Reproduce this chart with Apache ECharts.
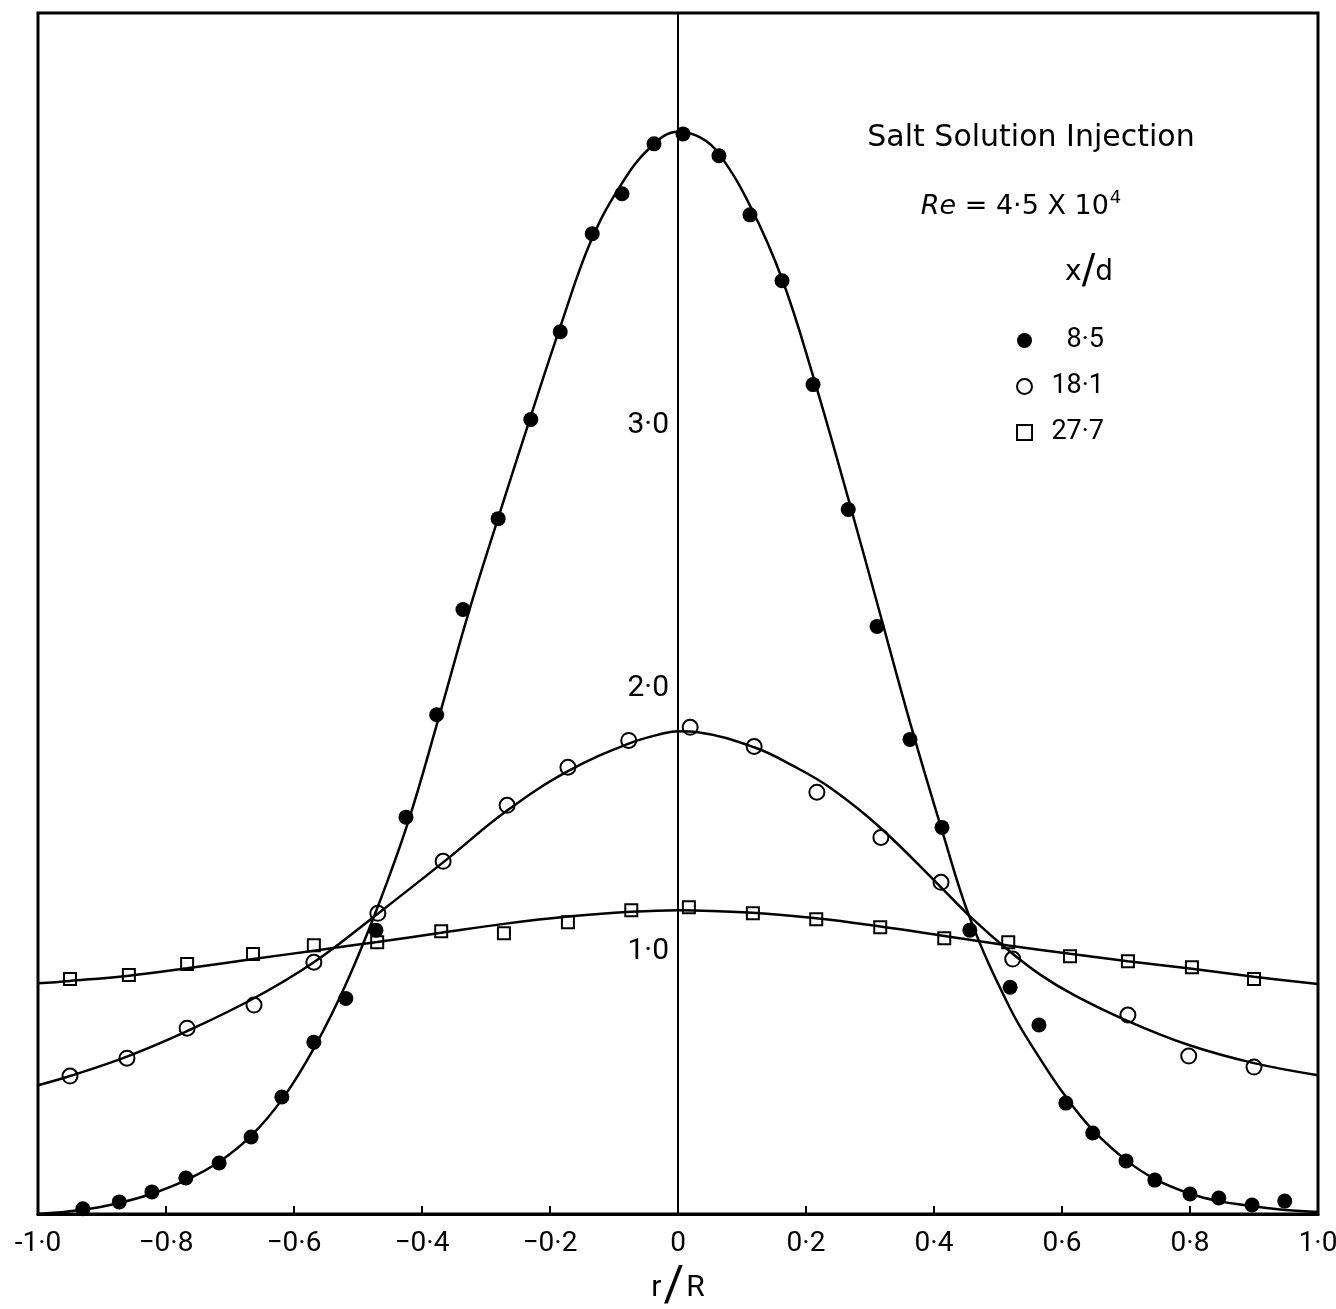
<!DOCTYPE html>
<html>
<head>
<meta charset="utf-8">
<script src="https://cdn.jsdelivr.net/npm/echarts@6/dist/echarts.min.js"></script>
<style>
html,body{margin:0;padding:0;background:#fff;}
#chart{width:1336px;height:1309px;}
</style>
</head>
<body>
<div id="chart"></div>
<script>
// ---- data ----
const seriesNames = ['8·5', '18·1', '27·7'];
const xTickLabels = ['-1·0', '−0·8', '−0·6', '−0·4', '−0·2', '0', '0·2', '0·4', '0·6', '0·8', '1·0'];
const yTickLabels = {1: '1·0', 2: '2·0', 3: '3·0'};

// measured points, x/d = 8.5
const pts85 = [[-0.930,0.02],[-0.873,0.046],[-0.822,0.084],[-0.769,0.137],[-0.717,0.194],[-0.667,0.293],[-0.619,0.445],[-0.569,0.654],[-0.519,0.82],[-0.472,1.08],[-0.425,1.51],[-0.377,1.90],[-0.336,2.30],[-0.281,2.646],[-0.230,3.023],[-0.184,3.357],[-0.134,3.73],[-0.0875,3.882],[-0.0375,4.072],[0.0078,4.11],[0.064,4.027],[0.1125,3.802],[0.1625,3.551],[0.211,3.156],[0.266,2.681],[0.311,2.236],[0.3625,1.806],[0.4125,1.471],[0.456,1.08],[0.519,0.863],[0.564,0.719],[0.606,0.422],[0.648,0.308],[0.700,0.202],[0.745,0.129],[0.8,0.076],[0.845,0.061],[0.897,0.034],[0.948,0.049]];
// measured points, x/d = 18.1
const pts181 = [[-0.950,0.525],[-0.861,0.593],[-0.767,0.707],[-0.6625,0.795],[-0.569,0.958],[-0.469,1.144],[-0.367,1.342],[-0.267,1.555],[-0.172,1.700],[-0.077,1.802],[0.019,1.852],[0.119,1.779],[0.217,1.605],[0.317,1.433],[0.411,1.262],[0.523,0.970],[0.703,0.757],[0.798,0.601],[0.900,0.559]];
// measured points, x/d = 27.7
const pts277 = [[-0.950,0.894],[-0.858,0.909],[-0.767,0.951],[-0.664,0.989],[-0.569,1.023],[-0.470,1.034],[-0.370,1.076],[-0.272,1.068],[-0.172,1.110],[-0.073,1.156],[0.017,1.167],[0.117,1.144],[0.216,1.122],[0.316,1.091],[0.416,1.049],[0.516,1.034],[0.6125,0.981],[0.703,0.962],[0.803,0.939],[0.900,0.894]];

// fitted curves
const curve85 = [[-1.0,0.0],[-0.9328,0.015],[-0.8734,0.042],[-0.8234,0.076],[-0.7688,0.129],[-0.7172,0.198],[-0.6672,0.297],[-0.6172,0.441],[-0.5688,0.631],[-0.5188,0.875],[-0.4688,1.171],[-0.4219,1.490],[-0.375,1.878],[-0.3281,2.281],[-0.2813,2.646],[-0.2297,3.038],[-0.1828,3.384],[-0.1359,3.703],[-0.0891,3.916],[-0.0422,4.061],[0.0,4.118],[0.0359,4.095],[0.0641,4.034],[0.1125,3.837],[0.1625,3.559],[0.2109,3.190],[0.2656,2.726],[0.3109,2.327],[0.3625,1.871],[0.4125,1.460],[0.4563,1.125],[0.5188,0.783],[0.5641,0.597],[0.6063,0.445],[0.6484,0.319],[0.7,0.205],[0.7453,0.133],[0.8016,0.076],[0.8453,0.049],[0.8984,0.030],[0.95,0.015],[1.0,0.008]];
const curve181 = [[-1.0,0.490],[-0.950,0.525],[-0.859,0.601],[-0.767,0.696],[-0.6625,0.821],[-0.569,0.958],[-0.470,1.141],[-0.367,1.338],[-0.267,1.535],[-0.172,1.685],[-0.077,1.790],[-0.022,1.829],[0.0,1.837],[0.031,1.833],[0.119,1.776],[0.180,1.705],[0.239,1.620],[0.317,1.468],[0.411,1.243],[0.4625,1.118],[0.516,1.004],[0.567,0.909],[0.619,0.833],[0.703,0.734],[0.798,0.643],[0.900,0.574],[1.0,0.528]];
const curve277 = [[-1.0,0.878],[-0.95,0.887],[-0.858,0.907],[-0.767,0.935],[-0.664,0.970],[-0.569,1.002],[-0.470,1.035],[-0.370,1.070],[-0.272,1.104],[-0.172,1.132],[-0.073,1.150],[0.0,1.156],[0.117,1.146],[0.216,1.125],[0.316,1.094],[0.411,1.060],[0.516,1.022],[0.6125,0.990],[0.703,0.962],[0.803,0.933],[0.900,0.903],[1.0,0.875]];

const FONT = 'Roboto';
const TFONT = 'DejaVu Sans';
const chart = echarts.init(document.getElementById('chart'), null, {renderer: 'canvas'});

const lineStyleCurve = {color: '#000', width: 2.5};
function curveSeries(data) {
  return {type: 'line', data: data, smooth: 0.4, showSymbol: false, symbol: 'none',
          lineStyle: lineStyleCurve, silent: true, z: 2, legendHoverLink: false};
}

chart.setOption({
  animation: false,
  backgroundColor: '#fff',
  textStyle: {fontFamily: FONT, color: '#000'},
  grid: {left: 38, right: 18, top: 13, bottom: 95, show: true, borderColor: '#000', borderWidth: 3,
         backgroundColor: 'transparent', containLabel: false, outerBoundsMode: 'none'},
  xAxis: {
    type: 'value', min: -1, max: 1, interval: 0.2,
    axisLine: {show: true, onZero: false, lineStyle: {color: '#000', width: 3}},
    axisTick: {show: true, inside: true, length: 8, lineStyle: {color: '#000', width: 2}},
    splitLine: {show: false},
    axisLabel: {
      margin: 16, fontFamily: FONT, fontSize: 28, color: '#000',
      formatter: v => xTickLabels[Math.round((v + 1) / 0.2)] || ''
    },
    name: '{a|r}{b|/}{a|R}', nameLocation: 'middle', nameGap: 54,
    nameTextStyle: {fontFamily: FONT, color: '#000',
      rich: {a: {fontFamily: FONT, fontSize: 30, color: '#000', lineHeight: 40},
             b: {fontFamily: FONT, fontSize: 50, color: '#000', lineHeight: 40, padding: [0, 2, 0, 2]}}}
  },
  yAxis: {
    type: 'value', min: 0, max: 4.57, interval: 1, position: 'left', offset: -640,
    axisLine: {show: true, onZero: false, lineStyle: {color: '#000', width: 2}},
    axisTick: {show: false},
    splitLine: {show: false},
    axisLabel: {
      margin: 9, fontFamily: FONT, fontSize: 30, color: '#000',
      formatter: v => yTickLabels[Math.round(v * 100) / 100] || ''
    }
  },
  legend: {
    show: true, orient: 'vertical', left: 1011, top: 322,
    itemWidth: 15, itemHeight: 15, itemGap: 19,
    data: seriesNames,
    formatter: name => '{n|' + name + '}',
    textStyle: {fontFamily: FONT, color: '#000',
      rich: {n: {fontFamily: FONT, fontSize: 27, color: '#000', width: 67, align: 'right', lineHeight: 30}}},
    selectedMode: false
  },
  graphic: [
    {type: 'text', x: 1031, y: 138, style: {text: 'Salt Solution Injection', fontFamily: TFONT, fontSize: 30, fill: '#000', align: 'center', verticalAlign: 'middle'}},
    {type: 'text', x: 1021, y: 207, style: {
      text: '{r|Re} = 4·5 X 10{s|4}', fontFamily: TFONT, fontSize: 27, fill: '#000', align: 'center', verticalAlign: 'middle',
      rich: {r: {fontFamily: TFONT, fontSize: 27, fontStyle: 'italic', fill: '#000'}, s: {fontFamily: TFONT, fontSize: 18, fill: '#000', verticalAlign: 'bottom', padding: [0, 0, 18, 1]}}}},
    {type: 'text', x: 1089, y: 273, style: {
      text: '{a|x}{b|/}{a|d}', align: 'center', verticalAlign: 'middle',
      rich: {a: {fontFamily: TFONT, fontSize: 28, fill: '#000'}, b: {fontFamily: TFONT, fontSize: 40, fill: '#000'}}}}
  ],
  series: [
    curveSeries(curve85),
    curveSeries(curve181),
    curveSeries(curve277),
    {name: seriesNames[0], type: 'scatter', data: pts85, symbol: 'circle', symbolSize: 15, z: 3,
     itemStyle: {color: '#000', borderColor: '#000', borderWidth: 0, opacity: 1}},
    {name: seriesNames[1], type: 'scatter', data: pts181, symbol: 'circle', symbolSize: 15, z: 3,
     itemStyle: {color: 'rgba(255,255,255,0)', borderColor: '#000', borderWidth: 2, opacity: 1}},
    {name: seriesNames[2], type: 'scatter', data: pts277, symbol: 'rect', symbolSize: 12, z: 3,
     itemStyle: {color: 'rgba(255,255,255,0)', borderColor: '#000', borderWidth: 2, opacity: 1}}
  ]
});
</script>
</body>
</html>
